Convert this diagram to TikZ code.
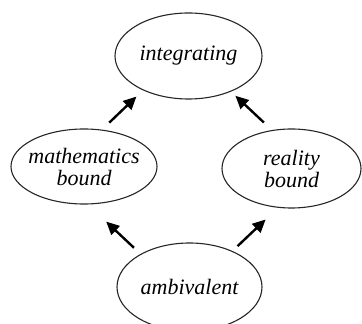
\documentclass[tikz,border=0pt]{standalone}
\usepackage{fontspec}
\setmainfont{Liberation Serif}
\usetikzlibrary{shapes.geometric, arrows.meta}
\tikzset{
  stagebox/.style={ellipse, draw=black!85, line width=1.1pt, inner sep=-6pt,
                   align=center, font=\fontsize{22}{22}\selectfont\itshape},
  uparrow/.style={-{Triangle[length=13pt, width=12pt]}, line width=2.4pt}
}

\begin{document}
\begin{tikzpicture}[x=1pt, y=1pt]
    \useasboundingbox (0,0) rectangle (362,324);
    \clip (0,0) rectangle (362,324);
    \node[stagebox, minimum width=147pt, minimum height=86pt] (integ) at (188.5,268) {integrating};
    \node[stagebox, minimum width=146pt, minimum height=75pt] (mathb) at (84,157.5) {mathematics\\bound};
    \node[stagebox, minimum width=139pt, minimum height=79pt] (realb) at (291.5,155.5) {reality\\bound};
    \node[stagebox, minimum width=145pt, minimum height=88pt] (ambiv) at (189.5,37) {ambivalent};
    \draw[uparrow, shorten <=10pt, shorten >=9pt]  (mathb.64)  -- (integ.217);
    \draw[uparrow, shorten <=11pt, shorten >=6pt]  (realb.117) -- (integ.320);
    \draw[uparrow, shorten <=9pt,  shorten >=25pt] (ambiv.146) -- (mathb.276);
    \draw[uparrow, shorten <=7pt,  shorten >=17pt] (ambiv.40)  -- (realb.251);
\end{tikzpicture}
\end{document}
